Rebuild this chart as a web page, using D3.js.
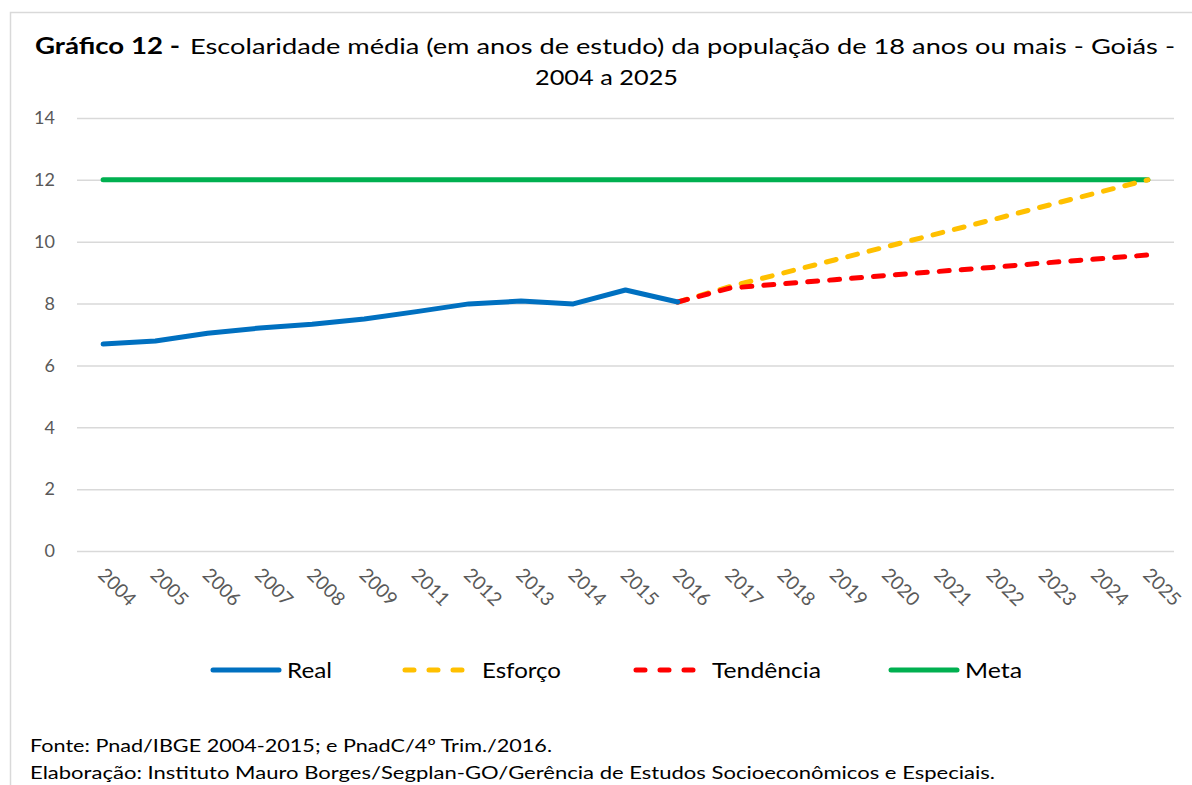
<!DOCTYPE html>
<html>
<head>
<meta charset="utf-8">
<script src="https://cdn.jsdelivr.net/npm/d3@7"></script>
<style>
  html, body { margin: 0; padding: 0; background: #fff; }
  svg { display: block; font-family: Lato, "Open Sans", sans-serif; }
</style>
</head>
<body>
<svg id="chart" width="1192" height="785"></svg>
<script>
const years = ["2004","2005","2006","2007","2008","2009","2011","2012","2013","2014","2015","2016","2017","2018","2019","2020","2021","2022","2023","2024","2025"];
const realYears = ["2004","2005","2006","2007","2008","2009","2011","2012","2013","2014","2015","2016"];
const realValues = [6.69, 6.79, 7.04, 7.21, 7.33, 7.50, 7.74, 7.99, 8.08, 7.99, 8.44, 8.05];
const projYears = ["2016","2017","2018","2019","2020","2021","2022","2023","2024","2025"];
const esforcoValues = [8.05, 8.55, 8.98, 9.41, 9.84, 10.27, 10.70, 11.14, 11.57, 12.0];
const tendenciaValues = [8.05, 8.50, 8.64, 8.77, 8.91, 9.04, 9.17, 9.31, 9.44, 9.57];
const metaYears = years;
const metaValues = years.map(() => 12);
const yTicks = [0, 2, 4, 6, 8, 10, 12, 14];
const titleBold = "Gráfico 12 -";
const titleRest = "Escolaridade média (em anos de estudo) da população de 18 anos ou mais - Goiás -";
const titleLine2 = "2004 a 2025";
const sourceLines = ["Fonte: Pnad/IBGE 2004-2015; e PnadC/4º Trim./2016.",
  "Elaboração: Instituto Mauro Borges/Segplan-GO/Gerência de Estudos Socioeconômicos e Especiais."];
const legendItems = [
  {name: "Real", color: "#0070C0", dashed: false},
  {name: "Esforço", color: "#FFC000", dashed: true},
  {name: "Tendência", color: "#FF0000", dashed: true},
  {name: "Meta", color: "#00B050", dashed: false}
];

const svg = d3.select("#chart");

// outer frame
svg.append("path").attr("d", "M10.5,785 L10.5,12.5 L1192,12.5")
  .attr("fill", "none").attr("stroke", "#d9d9d9").attr("stroke-width", 1.5);

const pLeft = 77, pRight = 1174, pTop = 118, pBottom = 551;
const x = d3.scaleBand().domain(years).range([pLeft, pRight]);
const cx = d => x(d) + x.bandwidth() / 2;
const y = d3.scaleLinear().domain([0, 14]).range([pBottom, pTop]);

function fitText(sel, len) {
  return sel.attr("textLength", len).attr("lengthAdjust", "spacingAndGlyphs");
}

// Title
fitText(svg.append("text").attr("x", 35).attr("y", 54)
  .attr("font-size", 22).attr("font-weight", "bold").attr("fill", "#000").text(titleBold), 145);
fitText(svg.append("text").attr("x", 190).attr("y", 54)
  .attr("font-size", 22).attr("fill", "#000").text(titleRest), 985);
fitText(svg.append("text").attr("x", 535).attr("y", 85)
  .attr("font-size", 22).attr("fill", "#000").text(titleLine2), 143);

// grid + y axis
const yAxis = d3.axisLeft(y).tickValues(yTicks).tickSize(-(pRight - pLeft)).tickPadding(22);
const gy = svg.append("g").attr("transform", `translate(${pLeft},0)`).call(yAxis);
gy.select(".domain").remove();
gy.selectAll(".tick line").attr("stroke", "#d9d9d9").attr("stroke-width", 1.5);
gy.selectAll(".tick text").attr("font-size", 18).attr("fill", "#595959")
  .attr("font-family", "Lato, sans-serif");

// x axis labels
const xAxis = d3.axisBottom(x).tickSize(0).tickPadding(0);
const gx = svg.append("g").attr("transform", `translate(0,${pBottom})`).call(xAxis);
gx.select(".domain").remove();
gx.selectAll(".tick text")
  .attr("font-size", 19).attr("fill", "#595959")
  .attr("font-family", "Lato, sans-serif")
  .attr("text-anchor", "start")
  .attr("dy", 0)
  .attr("transform", "translate(-6,25) rotate(45)");

// lines
const line = d3.line().x(d => cx(d[0])).y(d => y(d[1]));
function draw(ys, vs, color, dashed) {
  const p = svg.append("path").datum(ys.map((k, i) => [k, vs[i]]))
    .attr("d", line).attr("fill", "none").attr("stroke", color)
    .attr("stroke-width", 5).attr("stroke-linecap", "round").attr("stroke-linejoin", "round");
  if (dashed) p.attr("stroke-dasharray", "10,12");
}
draw(metaYears, metaValues, "#00B050", false);
draw(projYears, esforcoValues, "#FFC000", true);
draw(projYears, tendenciaValues, "#FF0000", true);
draw(realYears, realValues, "#0070C0", false);

// legend
const legendX = [213, 405, 636, 891];
const legendTextX = [287, 482, 712, 965];
const legendTextW = [45, 79, 109, 57];
legendItems.forEach((it, i) => {
  const l = svg.append("line").attr("x1", legendX[i]).attr("x2", legendX[i] + 66)
    .attr("y1", 670).attr("y2", 670).attr("stroke", it.color).attr("stroke-width", 5)
    .attr("stroke-linecap", "round");
  if (it.dashed) l.attr("stroke-dasharray", "9,15").attr("x2", legendX[i] + 63);
  fitText(svg.append("text").attr("x", legendTextX[i]).attr("y", 678).attr("font-size", 21)
    .attr("fill", "#000").text(it.name), legendTextW[i]);
});

// footer
const footW = [522, 965];
sourceLines.forEach((s, i) => {
  fitText(svg.append("text").attr("x", 30).attr("y", 752 + i * 27).attr("font-size", 18)
    .attr("fill", "#000").text(s), footW[i]);
});
</script>
</body>
</html>
